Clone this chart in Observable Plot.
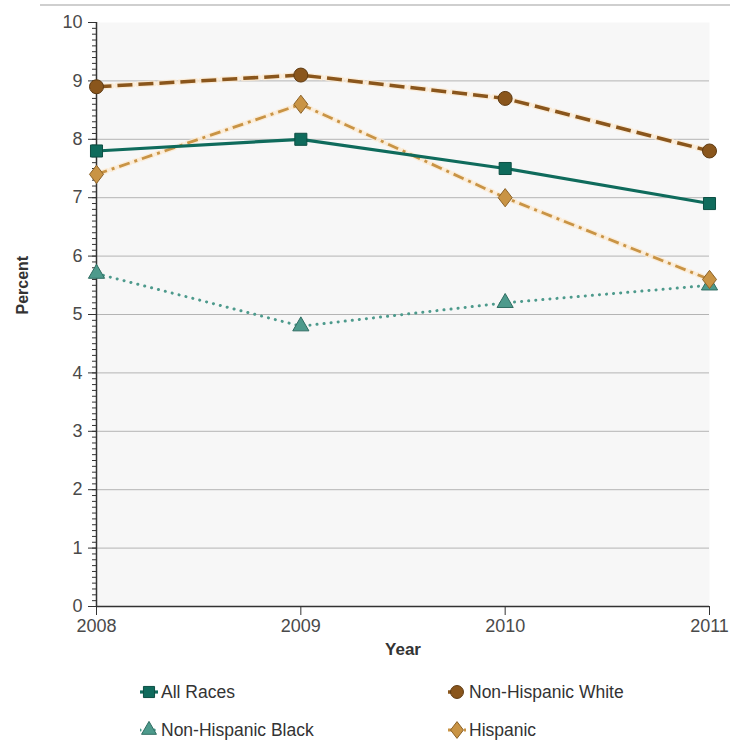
<!DOCTYPE html>
<html>
<head>
<meta charset="utf-8">
<script src="https://cdn.jsdelivr.net/npm/d3@7"></script>
<script src="https://cdn.jsdelivr.net/npm/@observablehq/plot@0.6"></script>
<style>
  html, body { margin: 0; padding: 0; background: #fff; }
  body { width: 732px; height: 742px; position: relative; overflow: hidden; font-family: "Liberation Sans", Arial, sans-serif; }
  #topline { position: absolute; left: 40px; top: 4px; width: 690px; height: 2px; background: #cfcfcf; }
  #chart { position: absolute; left: 0; top: 0; }
  .leg { position: absolute; display: flex; align-items: center; font-size: 17.5px; color: #333; white-space: nowrap; }
  .leg svg { display: block; margin-right: 3px; }
</style>
</head>
<body>
<div id="topline"></div>
<div id="chart"></div>
<div id="legend"></div>
<script>
const years = [2008, 2009, 2010, 2011];
const seriesNames = ["All Races", "Non-Hispanic White", "Non-Hispanic Black", "Hispanic"];
const allRaces = [7.8, 8.0, 7.5, 6.9];
const nhWhite = [8.9, 9.1, 8.7, 7.8];
const nhBlack = [5.7, 4.8, 5.2, 5.5];
const hispanic = [7.4, 8.6, 7.0, 5.6];
const yTicks = [0, 1, 2, 3, 4, 5, 6, 7, 8, 9, 10];
const gridTicks = [1, 2, 3, 4, 5, 6, 7, 8, 9];

const seriesValues = [allRaces, nhWhite, nhBlack, hispanic];
const colors = ["#0f6b5c", "#8a561c", "#4d9a8c", "#c99445"];
const strokes = ["#0d4f44", "#5e3a12", "#2f6d62", "#8c6228"];
const dashes = [null, "15,6", "0.1,7", "11,5,3,5"];
const caps = ["butt", "butt", "round", "butt"];
const widths = [3.2, 3.5, 3, 2.8];
const sizes = [6.8, 7, 6, 7];

const tallDiamond = {
  draw(context, size) {
    const s = Math.sqrt(size / Math.PI);
    const hw = s * 1.0, hh = s * 1.3;
    context.moveTo(0, -hh);
    context.lineTo(hw, 0);
    context.lineTo(0, hh);
    context.lineTo(-hw, 0);
    context.closePath();
  }
};
const symbolTypes = [d3.symbolSquare, d3.symbolCircle, d3.symbolTriangle, tallDiamond];

const rows = [];
seriesNames.forEach((s, i) => years.forEach((y, j) => rows.push({series: s, year: y, value: seriesValues[i][j], idx: i})));
const minorTicks = d3.range(0, 100.5, 1).map(v => v / 10);

const lineMarks = [];
const dotMarks = [];
[1, 3, 0, 2].forEach(i => {
  const data = rows.filter(r => r.idx === i);
  if (i === 1 || i === 3) {
    lineMarks.push(Plot.line(data, {x: "year", y: "value", stroke: "#fbe9cf", strokeWidth: widths[i] + 2.5, strokeDasharray: dashes[i], strokeOpacity: 0.8}));
  }
  lineMarks.push(Plot.line(data, {x: "year", y: "value", stroke: colors[i], strokeWidth: widths[i], strokeDasharray: dashes[i], strokeLinecap: caps[i]}));
});
[2, 3, 0, 1].forEach(i => {
  const data = rows.filter(r => r.idx === i);
  dotMarks.push(Plot.dot(data, {x: "year", y: "value", symbol: symbolTypes[i], r: sizes[i], fill: colors[i], stroke: strokes[i], strokeWidth: 1}));
});

const chart = Plot.plot({
  width: 732,
  height: 670,
  marginTop: 22,
  marginBottom: 64,
  marginLeft: 96,
  marginRight: 23,
  style: {fontFamily: "'Liberation Sans', Arial, sans-serif", fontSize: "18px", color: "#444", background: "transparent"},
  x: {domain: [2008, 2011]},
  y: {domain: [0, 10]},
  marks: [
    Plot.frame({fill: "#f7f7f7", stroke: null}),
    Plot.ruleY(gridTicks, {stroke: "#b4b4b4", strokeWidth: 1}),
    Plot.axisY({ticks: minorTicks, tickSize: 4, text: null, stroke: "#333", label: null}),
    Plot.axisY({ticks: yTicks, tickSize: 8, tickPadding: 6, tickFormat: d => String(d), stroke: "#333", fill: "#4a4a4a", fontSize: 18, label: null}),
    Plot.axisX({ticks: years, tickSize: 9, tickPadding: 4, tickFormat: d => String(d), stroke: "#333", fill: "#4a4a4a", fontSize: 18, label: null}),
    Plot.ruleX([2008], {stroke: "#333", strokeWidth: 1.5}),
    Plot.ruleY([0], {stroke: "#333", strokeWidth: 1.5}),
    ...lineMarks,
    ...dotMarks,
    Plot.text(["Year"], {frameAnchor: "bottom", dy: 48, text: d => d, fontWeight: "bold", fontSize: 17, fill: "#333"}),
    Plot.text(["Percent"], {frameAnchor: "left", dx: -74, rotate: -90, text: d => d, fontWeight: "bold", fontSize: 16, fill: "#333"})
  ]
});
document.getElementById("chart").appendChild(chart);

// Legend
const legendPos = [[140, 692], [448, 692], [140, 730], [448, 730]];
const legend = document.getElementById("legend");
seriesNames.forEach((name, i) => {
  const div = document.createElement("div");
  div.className = "leg";
  div.style.left = legendPos[i][0] + "px";
  div.style.top = (legendPos[i][1] - 10) + "px";
  div.style.height = "20px";
  const svg = d3.create("svg").attr("width", 18).attr("height", 20);
  svg.append("line").attr("x1", 0).attr("x2", 18).attr("y1", 10).attr("y2", 10)
    .attr("stroke", colors[i]).attr("stroke-width", widths[i]).attr("stroke-dasharray", dashes[i]).attr("stroke-linecap", caps[i]);
  svg.append("path").attr("transform", "translate(9,10)")
    .attr("d", d3.symbol(symbolTypes[i], Math.PI * sizes[i] * sizes[i] * 0.85)())
    .attr("fill", colors[i]).attr("stroke", strokes[i]).attr("stroke-width", 1);
  div.appendChild(svg.node());
  const span = document.createElement("span");
  span.textContent = name;
  div.appendChild(span);
  legend.appendChild(div);
});
</script>
</body>
</html>
